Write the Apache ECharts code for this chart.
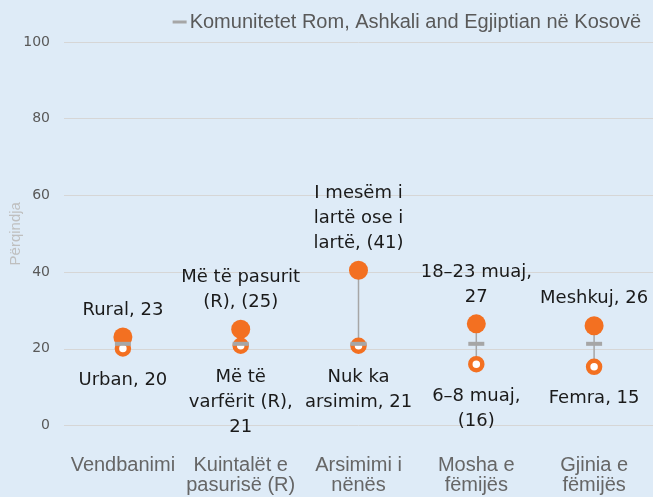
<!DOCTYPE html>
<html>
<head>
<meta charset="utf-8">
<script src="https://cdn.jsdelivr.net/npm/echarts@6/dist/echarts.min.js"></script>
<style>
html,body{margin:0;padding:0;background:#DEEBF7;}
#chart{width:653px;height:497px;}
</style>
</head>
<body>
<div id="chart"></div>
<script>
const categories = ['Vendbanimi', 'Kuintalët e\npasurisë (R)', 'Arsimimi i\nnënës', 'Mosha e\nfëmijës', 'Gjinia e\nfëmijës'];
const highValues = [23.1, 25.1, 40.5, 26.5, 26.0];
const lowValues = [20.1, 20.8, 20.8, 16.0, 15.3];
const avgValues = [21.3, 21.3, 21.3, 21.3, 21.3];
const highLabels = ['Rural, 23', 'Më të pasurit\n(R), (25)', 'I mesëm i\nlartë ose i\nlartë, (41)', '18–23 muaj,\n27', 'Meshkuj, 26'];
const lowLabels = ['Urban, 20', 'Më të\nvarfërit (R),\n21', 'Nuk ka\narsimim, 21', '6–8 muaj,\n(16)', 'Femra, 15'];
const yTicks = [0, 20, 40, 60, 80, 100];
const avgName = 'Komunitetet Rom, Ashkali and Egjiptian në Kosovë';
const yName = 'Përqindja';

const ORANGE = '#F37021';
const GREY = '#A6A6A6';
const labelStyle = {
  fontFamily: 'DejaVu Sans', fontSize: 18, color: '#1a1a1a', lineHeight: 25
};

const chart = echarts.init(document.getElementById('chart'));
chart.setOption({
  animation: false,
  backgroundColor: '#DEEBF7',
  grid: { left: 64, right: 0, top: 42, bottom: 71.5, containLabel: false, outerBoundsMode: 'none' },
  legend: {
    data: [avgName],
    right: 7, top: 7,
    icon: 'rect', itemWidth: 14, itemHeight: 3, itemGap: 10,
    textStyle: { fontFamily: 'Liberation Sans', fontSize: 20, color: '#595959', padding: [0, 0, 0, -2] }
  },
  xAxis: {
    type: 'category',
    data: categories,
    axisLine: { show: false },
    axisTick: { show: false },
    axisLabel: {
      margin: 30, fontFamily: 'Liberation Sans', fontSize: 20, color: '#666666', lineHeight: 20, interval: 0
    }
  },
  yAxis: {
    type: 'value', min: yTicks[0], max: yTicks[yTicks.length - 1], interval: 20,
    name: yName, nameLocation: 'middle', nameGap: 41, nameMoveOverlap: false,
    nameTextStyle: { fontFamily: 'Liberation Sans', fontSize: 15, color: '#BFBFBF' },
    axisLine: { show: false }, axisTick: { show: false },
    axisLabel: { margin: 14, fontFamily: 'DejaVu Sans', fontSize: 14, color: '#595959' },
    splitLine: { lineStyle: { color: '#D6D6D6', width: 1 } }
  },
  series: [
    {
      type: 'custom',
      name: 'range',
      z: 1,
      silent: true,
      data: categories.map((c, i) => [i, highValues[i], lowValues[i]]),
      encode: { x: 0, y: [1, 2] },
      renderItem: function (params, api) {
        const p1 = api.coord([api.value(0), api.value(1)]);
        const p2 = api.coord([api.value(0), api.value(2)]);
        return { type: 'line', shape: { x1: p1[0], y1: p1[1], x2: p2[0], y2: p2[1] }, style: { stroke: GREY, lineWidth: 1.5 } };
      }
    },
    {
      type: 'scatter', name: 'high', z: 3,
      data: highValues,
      symbol: 'circle', symbolSize: 19,
      itemStyle: { color: ORANGE, opacity: 1 },
      label: { show: true, position: 'top', distance: 5, formatter: p => highLabels[p.dataIndex], ...labelStyle }
    },
    {
      type: 'scatter', name: 'low', z: 3,
      data: lowValues,
      symbol: 'circle', symbolSize: 12,
      itemStyle: { color: '#ffffff', borderColor: ORANGE, borderWidth: 4.5, opacity: 1 },
      label: { show: true, position: 'bottom', distance: 11, formatter: p => lowLabels[p.dataIndex], ...labelStyle }
    },
    {
      type: 'scatter', name: avgName, z: 4,
      data: avgValues,
      symbol: 'rect', symbolSize: [16, 4],
      itemStyle: { color: GREY, opacity: 1 }
    }
  ]
});
</script>
</body>
</html>
